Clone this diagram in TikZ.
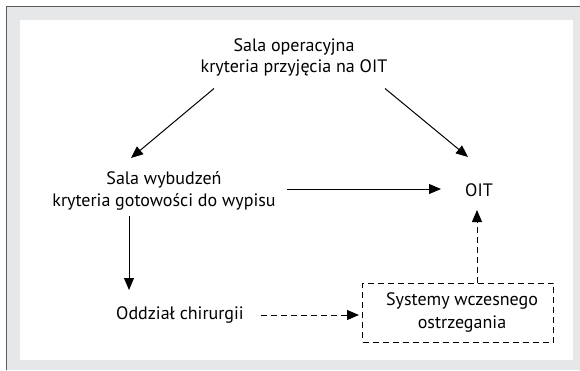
\documentclass[tikz,border=0pt]{standalone}
\usepackage{fontspec}
\setmainfont{PT Sans}
\usetikzlibrary{arrows.meta,calc}
\definecolor{bggray}{HTML}{E6E7E8}
\definecolor{edgegray}{HTML}{5A5B5D}
\tikzset{
  lbl/.style={align=center,inner sep=0pt,font=\fontsize{18}{21.5}\selectfont},
  arr/.style={line width=1pt,-{Triangle[length=12pt,width=10pt]}},
  darr/.style={arr,dash pattern=on 6pt off 4pt},
  dbox/.style={draw,line width=1pt,dash pattern=on 6pt off 4pt,minimum width=191pt,minimum height=59pt,align=center,inner sep=0pt,font=\fontsize{18}{23}\selectfont}
}
\begin{document}
\begin{tikzpicture}[x=1pt,y=-1pt]
\useasboundingbox (0,0) rectangle (580,370);
\fill[bggray] (6.5,6.5) rectangle (580,370);
\draw[edgegray,line width=1.5pt] (6.5,370) -- (6.5,6.5) -- (580,6.5);
\fill[white] (20,20) rectangle (573,360);
\node[lbl] (top) at (294,57.5) {Sala operacyjna\\kryteria przyjęcia na OIT};
\node[lbl] (sw) at (164,191) {Sala wybudzeń\\kryteria gotowości do wypisu};
\node[lbl] (oit) at (479,190) {OIT};
\node[lbl] (chir) at (180,315) {Oddział chirurgii};
\node[dbox] (box) at (458,312.5) {\hspace*{8pt}Systemy wczesnego\\\hspace*{8pt}ostrzegania};
\draw[arr] ([shift={(-80,31)}]top.center) -- ([shift={(-33,-33)}]sw.center);
\draw[arr] ([shift={(91,31)}]top.center) -- ([shift={(-11,-33)}]oit.center);
\draw[arr] ([shift={(123,-2)}]sw.center) -- ([shift={(-38,-1)}]oit.center);
\draw[arr] ([shift={(-35,25)}]sw.center) -- ([shift={(-51,-25)}]chir.center);
\draw[darr] ([shift={(81,0)}]chir.center) -- ([shift={(-99,2.5)}]box.center);
\draw[darr] ([shift={(19,0)}]box.north) -- ([shift={(-2,20)}]oit.center);
\end{tikzpicture}
\end{document}
